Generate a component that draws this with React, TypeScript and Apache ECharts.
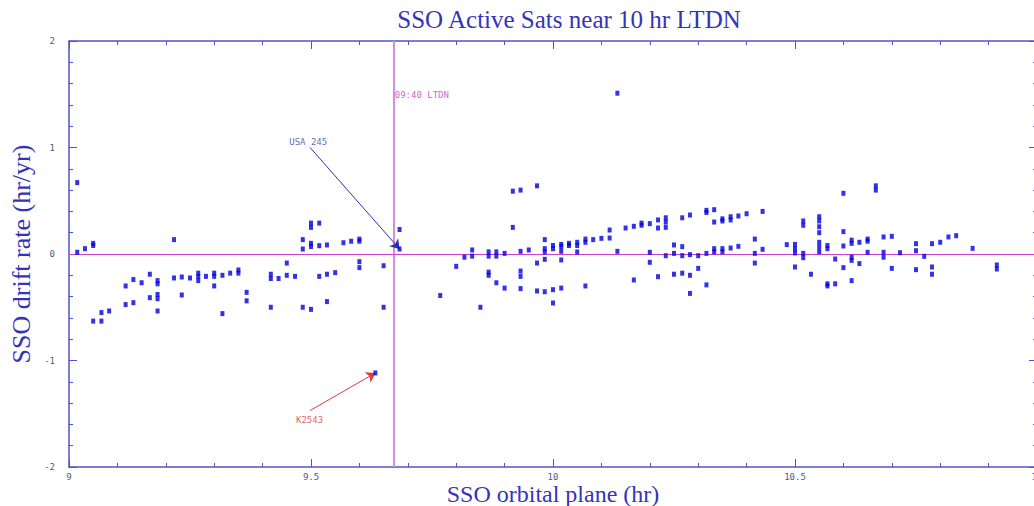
import React, { useEffect, useRef } from "react";
import * as echarts from "echarts";

// SSO orbital plane (hr, LTDN) and drift rate (hr/yr) of active satellites
const planeHr: number[] = [
  9.017, 9.017, 9.033, 9.05, 9.05, 9.05, 9.067, 9.067, 9.083,
  9.117, 9.117, 9.133, 9.133, 9.15, 9.167, 9.167,
  9.183, 9.183, 9.183, 9.183, 9.183,
  9.217, 9.217, 9.233, 9.233, 9.25, 9.267, 9.267, 9.267, 9.283,
  9.3, 9.3, 9.3, 9.317, 9.317, 9.333, 9.35, 9.35, 9.367, 9.367,
  9.417, 9.417, 9.417, 9.433, 9.45, 9.45, 9.467,
  9.483, 9.483, 9.483, 9.5, 9.5, 9.5, 9.5, 9.5,
  9.517, 9.517, 9.517, 9.533, 9.533, 9.533, 9.55, 9.567, 9.583,
  9.6, 9.6, 9.6, 9.6, 9.633, 9.65, 9.65, 9.683, 9.683,
  9.767, 9.8, 9.817, 9.833, 9.833, 9.85,
  9.867, 9.867, 9.867, 9.867, 9.883, 9.883, 9.883, 9.9, 9.9,
  9.917, 9.917, 9.933, 9.933, 9.933, 9.933, 9.933, 9.95,
  9.967, 9.967, 9.967, 9.983, 9.983, 9.983, 9.983, 9.983,
  10.0, 10.0, 10.0, 10.0, 10.017, 10.017, 10.017, 10.017, 10.017,
  10.033, 10.033, 10.05, 10.05, 10.05, 10.067, 10.067, 10.067,
  10.083, 10.1, 10.117, 10.117, 10.133, 10.133, 10.15, 10.167, 10.167,
  10.183, 10.183, 10.2, 10.2, 10.2, 10.217, 10.217, 10.217,
  10.233, 10.233, 10.233, 10.233, 10.25, 10.25, 10.25,
  10.267, 10.267, 10.267, 10.267, 10.283, 10.283, 10.283, 10.283,
  10.3, 10.3, 10.317, 10.317, 10.317, 10.317,
  10.333, 10.333, 10.333, 10.333, 10.35, 10.35, 10.35, 10.35,
  10.367, 10.367, 10.367, 10.383, 10.383, 10.4,
  10.417, 10.417, 10.417, 10.433, 10.433, 10.483,
  10.5, 10.5, 10.5, 10.5, 10.517, 10.517, 10.517, 10.517, 10.533,
  10.55, 10.55, 10.55, 10.55, 10.55, 10.55, 10.55,
  10.567, 10.567, 10.567, 10.567, 10.583, 10.583,
  10.6, 10.6, 10.6, 10.6, 10.617, 10.617, 10.617, 10.617, 10.617,
  10.633, 10.633, 10.65, 10.65, 10.65, 10.667, 10.667,
  10.683, 10.683, 10.683, 10.7, 10.7, 10.717,
  10.75, 10.75, 10.75, 10.767, 10.783, 10.783, 10.783,
  10.8, 10.817, 10.833, 10.867, 10.917, 10.917,
];

const driftRate: number[] = [
  0.67, 0.016, 0.05, 0.08, 0.1, -0.63, -0.63, -0.55, -0.535,
  -0.3, -0.475, -0.24, -0.457, -0.27, -0.19, -0.41,
  -0.25, -0.28, -0.38, -0.42, -0.535,
  0.135, -0.225, -0.216, -0.385, -0.225, -0.18, -0.21, -0.25, -0.21,
  -0.18, -0.21, -0.3, -0.2, -0.56, -0.18, -0.15, -0.18, -0.36, -0.44,
  -0.19, -0.23, -0.5, -0.23, -0.085, -0.2, -0.21,
  0.135, 0.047, -0.5, 0.25, 0.29, 0.07, 0.1, -0.52,
  0.29, 0.078, -0.21, 0.085, -0.19, -0.447, -0.175, 0.106, 0.12,
  0.12, 0.14, -0.072, -0.128, -1.117, -0.11, -0.5, 0.23, 0.047,
  -0.39, -0.116, -0.03, 0.038, -0.02, -0.5,
  0.02, -0.02, -0.17, -0.2, 0.02, -0.02, -0.27, 0.006, -0.32,
  0.59, 0.25, 0.6, 0.025, -0.16, -0.21, -0.325, 0.038,
  0.64, -0.085, -0.347, 0.135, 0.02, 0.05, -0.05, -0.354,
  0.05, 0.08, -0.335, -0.46, 0.07, 0.09, 0.025, -0.056, -0.32,
  0.08, 0.1, 0.08, 0.11, 0.019, 0.11, 0.14, -0.3,
  0.135, 0.147, 0.225, 0.15, 1.51, 0.025, 0.244, 0.26, -0.244,
  0.27, 0.29, 0.285, 0.016, -0.078, 0.32, 0.244, -0.213,
  0.3, 0.34, 0.25, -0.016, 0.085, 0.006, -0.19,
  0.34, 0.069, -0.016, -0.18, 0.366, -0.006, -0.2, -0.37,
  -0.016, -0.135, 0.39, 0.41, 0.006, -0.29,
  0.416, 0.3, 0.02, 0.05, 0.31, 0.33, 0.02, 0.05,
  0.32, 0.35, 0.056, 0.357, 0.072, 0.378,
  0.14, 0.006, -0.085, 0.4, 0.044, 0.088,
  0.09, 0.05, 0.01, -0.122, 0.27, 0.31, 0.006, -0.035, -0.19,
  0.31, 0.35, 0.256, 0.2, 0.11, 0.066, 0.022,
  0.05, 0.08, -0.28, -0.3, -0.047, -0.28,
  0.57, 0.21, 0.075, -0.128, 0.1, 0.13, -0.03, -0.06, -0.25,
  0.11, -0.09, 0.12, 0.14, 0.016, 0.6, 0.64,
  0.16, 0.016, -0.03, 0.166, -0.135, 0.012,
  0.097, 0.031, -0.147, -0.022, 0.097, -0.122, -0.19,
  0.11, 0.16, 0.172, 0.053, -0.103, -0.141,
];

// axis ranges / reference values
const xRange: [number, number] = [9, 11];
const yRange: [number, number] = [-2, 2];
const ltdnRef = 9.6667; // 09:40 LTDN
const ltdnLabel = "09:40 LTDN";
const ltdnLabelPos: [number, number] = [9.673, 1.49];

// annotations: label position, arrow start, arrow target (data units)
const usaName = "USA 245";
const usaLabel: [number, number] = [9.455, 1.05];
const usaStart: [number, number] = [9.498, 1.0];
const usaTarget: [number, number] = [9.683, 0.047];

const kName = "K2543";
const kLabel: [number, number] = [9.469, -1.56];
const kStart: [number, number] = [9.498, -1.47];
const kTarget: [number, number] = [9.633, -1.117];

const axisColor = "#5252c8";
const labelFont = "'DejaVu Sans Mono', monospace";
const nameFont = "'Liberation Serif', serif";
const nameColor = "#3434b8";

export default function App() {
  const ref = useRef<HTMLDivElement>(null);

  useEffect(() => {
    if (!ref.current) return;
    const chart = echarts.init(ref.current, undefined, { renderer: "svg" });

    const points = planeHr.map((x, i) => [x, driftRate[i]]);

    const baseX = {
      type: "value",
      min: xRange[0],
      max: xRange[1],
      interval: 0.5,
      splitLine: { show: false },
      axisLine: { show: true, onZero: false, lineStyle: { color: axisColor, width: 1.5 } },
      axisTick: { show: true, inside: true, length: 8, lineStyle: { color: axisColor } },
      minorTick: { show: true, splitNumber: 5, length: 4, lineStyle: { color: axisColor } },
    };
    const baseY = {
      type: "value",
      min: yRange[0],
      max: yRange[1],
      interval: 1,
      splitLine: { show: false },
      axisLine: { show: true, onZero: false, lineStyle: { color: axisColor, width: 1.5 } },
      axisTick: { show: true, inside: true, length: 8, lineStyle: { color: axisColor } },
      minorTick: { show: true, splitNumber: 5, length: 4, lineStyle: { color: axisColor } },
    };

    const textLabel = (txt: string, color: string) => ({
      show: true,
      formatter: txt,
      position: [0, 0],
      align: "left",
      verticalAlign: "middle",
      color,
      fontFamily: labelFont,
      fontSize: 9,
    });

    chart.setOption({
      animation: false,
      backgroundColor: "#ffffff",
      grid: {
        left: 69,
        right: -3,
        top: 41,
        bottom: 39,
        containLabel: false,
        outerBoundsMode: "none",
      },
      graphic: [
        {
          type: "text",
          x: 569,
          y: 19,
          style: {
            text: "SSO Active Sats near 10 hr LTDN",
            fill: nameColor,
            font: `25px ${nameFont}`,
            align: "center",
            verticalAlign: "middle",
          },
        },
      ],
      xAxis: [
        {
          ...baseX,
          position: "bottom",
          name: "SSO orbital plane (hr)",
          nameLocation: "middle",
          nameGap: 16,
          nameMoveOverlap: false,
          nameTextStyle: { color: nameColor, fontFamily: nameFont, fontSize: 24, lineHeight: 22 },
          axisLabel: {
            color: "#555588",
            fontFamily: labelFont,
            fontSize: 9,
            lineHeight: 10,
            margin: 5,
          },
        },
        { ...baseX, position: "top", axisLabel: { show: false } },
      ],
      yAxis: [
        {
          ...baseY,
          position: "left",
          name: "SSO drift rate (hr/yr)",
          nameLocation: "middle",
          nameGap: 35,
          nameMoveOverlap: false,
          nameTextStyle: { color: nameColor, fontFamily: nameFont, fontSize: 26 },
          axisLabel: {
            color: "#555588",
            fontFamily: labelFont,
            fontSize: 9,
            margin: 14,
          },
        },
        { ...baseY, position: "right", axisLabel: { show: false } },
      ],
      series: [
        {
          type: "scatter",
          name: "ltdnLine",
          data: [],
          markLine: {
            silent: true,
            symbol: "none",
            label: { show: false },
            lineStyle: { color: "#d48ede", width: 2, type: "solid" },
            data: [{ xAxis: ltdnRef }],
          },
        },
        {
          type: "scatter",
          name: "zeroLine",
          data: [],
          markLine: {
            silent: true,
            symbol: "none",
            label: { show: false },
            lineStyle: { color: "#d040d0", width: 1, type: "solid" },
            data: [{ yAxis: 0 }],
          },
        },
        {
          type: "scatter",
          name: "sats",
          symbol: "rect",
          symbolSize: [4, 5],
          itemStyle: { color: "#0000e0" },
          data: points,
          z: 5,
        },
        {
          type: "scatter",
          name: "usaArrow",
          data: [],
          markLine: {
            silent: true,
            symbol: ["none", "arrow"],
            symbolSize: 9,
            label: { show: false },
            lineStyle: { color: "#3030a8", width: 1, type: "solid" },
            itemStyle: { color: "#3030a8" },
            data: [[{ coord: usaStart }, { coord: usaTarget }]],
          },
        },
        {
          type: "scatter",
          name: "kArrow",
          data: [],
          markLine: {
            silent: true,
            symbol: ["none", "arrow"],
            symbolSize: 9,
            label: { show: false },
            lineStyle: { color: "#e03a3a", width: 1, type: "solid" },
            itemStyle: { color: "#e03a3a" },
            data: [[{ coord: kStart }, { coord: kTarget }]],
          },
        },
        {
          type: "scatter",
          name: "labels",
          symbolSize: 0,
          z: 6,
          data: [
            { value: usaLabel, label: textLabel(usaName, "#3a3aa8") },
            { value: kLabel, label: textLabel(kName, "#d03a3a") },
            { value: ltdnLabelPos, label: textLabel(ltdnLabel, "#cc33cc") },
          ],
        },
      ],
    });

    return () => chart.dispose();
  }, []);

  return (
    <div
      ref={ref}
      style={{ position: "fixed", left: 0, top: 0, width: 1034, height: 506, background: "#fff" }}
    />
  );
}
